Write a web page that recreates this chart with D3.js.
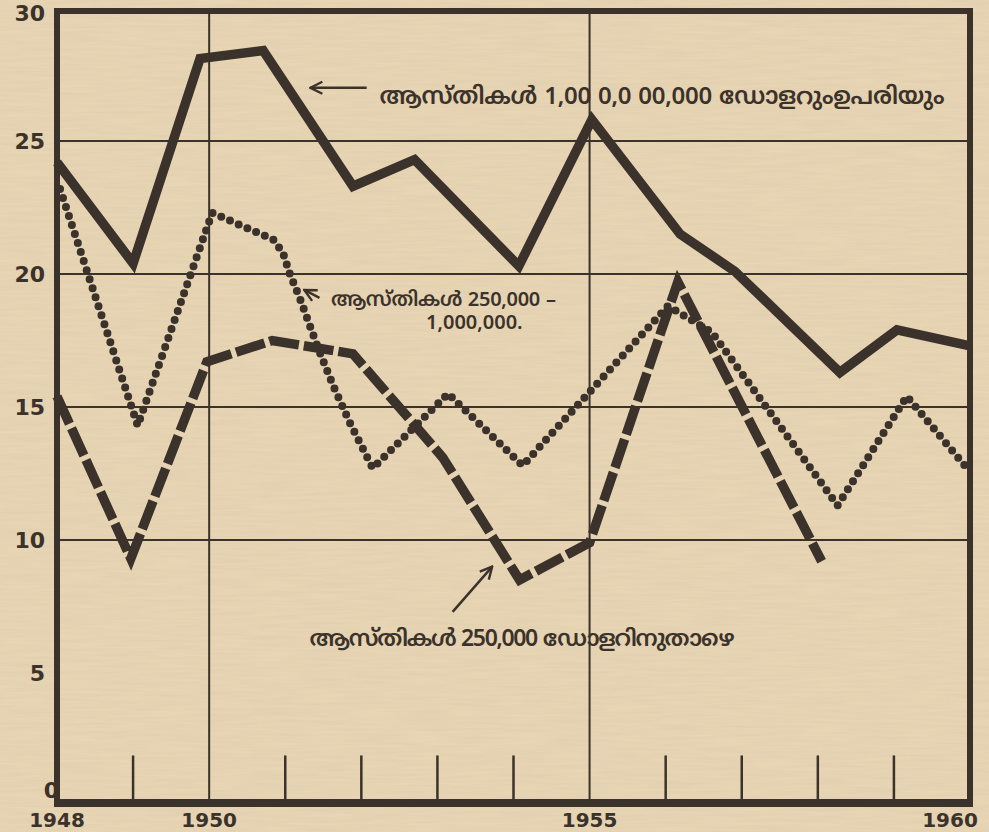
<!DOCTYPE html>
<meta charset="utf-8">
<style>
body { margin: 0; background: #e8d6b5; }
svg { display: block; font-family: "DejaVu Sans", sans-serif; }
</style>
<body>
<script src="https://cdn.jsdelivr.net/npm/d3@7"></script>
<script>

// values; the original puts its points a little
// off the year ticks, so the years carry the decimals it was drawn with
var bigYears    = [1948, 1949, 1949.88, 1950.71, 1951.89, 1952.70, 1954.07, 1955.03, 1956.19, 1956.91, 1958.29, 1959.04, 1960];
var bigValues   = [24.2, 20.4, 28.1, 28.4, 23.3, 24.3, 20.3, 25.8, 21.5, 20.1, 16.3, 17.9, 17.3];

var midYears    = [1948.04, 1949.06, 1950.04, 1950.44, 1950.84, 1950.97, 1951.06, 1951.19, 1951.42, 1951.63, 1951.85, 1952.15, 1953.14, 1954.12, 1956.03, 1956.61, 1958.26, 1959.17, 1959.96];
var midValues   = [23.2, 14.3, 22.3, 21.8, 21.3, 20.8, 20.0, 19.1, 17.3, 15.8, 14.4, 12.7, 15.5, 12.8, 18.8, 17.8, 11.3, 15.4, 12.7];

var smallYears  = [1948, 1948.97, 1949.97, 1950.83, 1951.89, 1953.07, 1954.08, 1955.0, 1956.16, 1958.05];
var smallValues = [15.4, 9.3, 16.7, 17.5, 17.0, 13.1, 8.5, 9.9, 19.7, 9.2];

var yTicks     = [0, 5, 10, 15, 20, 25, 30];
var gridValues = [10, 15, 20, 25];
var gridYears  = [1950, 1955];
var minorYears = [1949, 1951, 1952, 1953, 1954, 1956, 1957, 1958, 1959];
var xLabels    = [1948, 1950, 1955, 1960];

var bigLabel   = "ആസ്തികൾ  1,00 0,0 00,000 ഡോളറുംഉപരിയും";
var midLabel   = ["ആസ്തികൾ 250,000 –", "1,000,000."];
var smallLabel = "ആസ്തികൾ 250,000 ഡോളറിനുതാഴെ";

var ink = "#3b322b";
var paper = "#e7d5b4";

var width = 989, height = 832;

var x = d3.scaleLinear().domain([1948, 1960]).range([57, 970]);
var y = d3.scaleLinear().domain([0, 30]).range([806, 8]);

var svg = d3.select("body").append("svg")
    .attr("width", width)
    .attr("height", height)
    .style("background", paper);

var defs = svg.append("defs");
defs.append("marker")
    .attr("id", "head")
    .attr("viewBox", "0 0 10 10")
    .attr("refX", 9).attr("refY", 5)
    .attr("markerWidth", 6).attr("markerHeight", 6)
    .attr("markerUnits", "strokeWidth")
    .attr("orient", "auto-start-reverse")
  .append("path")
    .attr("d", "M1,1 L9,5 L1,9")
    .attr("fill", "none")
    .attr("stroke", ink)
    .attr("stroke-width", 1.6);

// faint paper grain
var grain = defs.append("filter").attr("id", "grain")
    .attr("x", 0).attr("y", 0).attr("width", "100%").attr("height", "100%");
grain.append("feTurbulence")
    .attr("type", "fractalNoise")
    .attr("baseFrequency", "0.02 0.35")
    .attr("numOctaves", 3)
    .attr("seed", 4);
grain.append("feColorMatrix")
    .attr("type", "matrix")
    .attr("values", "0 0 0 0 0.45  0 0 0 0 0.36  0 0 0 0 0.25  0 0 0 0.35 -0.1");

svg.append("rect")
    .attr("width", width).attr("height", height)
    .attr("filter", "url(#grain)")
    .attr("opacity", 0.5);

// grid
svg.append("g").selectAll("line")
    .data(gridValues)
  .enter().append("line")
    .attr("x1", x(1948)).attr("x2", x(1960))
    .attr("y1", function(d) { return y(d); })
    .attr("y2", function(d) { return y(d); })
    .attr("stroke", ink).attr("stroke-width", 2);

svg.append("g").selectAll("line")
    .data(gridYears)
  .enter().append("line")
    .attr("x1", function(d) { return x(d); })
    .attr("x2", function(d) { return x(d); })
    .attr("y1", y(30)).attr("y2", y(0))
    .attr("stroke", ink).attr("stroke-width", 2);

// short year ticks along the bottom
svg.append("g").selectAll("line")
    .data(minorYears)
  .enter().append("line")
    .attr("x1", function(d) { return x(d); })
    .attr("x2", function(d) { return x(d); })
    .attr("y1", y(1.9)).attr("y2", y(0))
    .attr("stroke", ink).attr("stroke-width", 2.5);

// frame
svg.append("path")
    .attr("d", "M" + x(1948) + "," + y(0) + "V" + (y(30) + 3) + "H" + x(1960) + "V" + y(0))
    .attr("fill", "none").attr("stroke", ink).attr("stroke-width", 6);
svg.append("line")
    .attr("x1", x(1948) - 3).attr("x2", x(1960) + 3)
    .attr("y1", y(0) - 3).attr("y2", y(0) - 3)
    .attr("stroke", ink).attr("stroke-width", 8);

// series
var line = d3.line()
    .x(function(d) { return x(d[0]); })
    .y(function(d) { return y(d[1]); });

svg.append("path")
    .datum(d3.zip(bigYears, bigValues))
    .attr("d", line)
    .attr("fill", "none").attr("stroke", ink)
    .attr("stroke-width", 9.5).attr("stroke-linejoin", "miter");

svg.append("path")
    .datum(d3.zip(smallYears, smallValues))
    .attr("d", line)
    .attr("fill", "none").attr("stroke", ink)
    .attr("stroke-width", 9.5)
    .attr("stroke-dasharray", "30,5");

svg.append("path")
    .datum(d3.zip(midYears, midValues))
    .attr("d", line)
    .attr("fill", "none").attr("stroke", ink)
    .attr("stroke-width", 8)
    .attr("stroke-linecap", "round")
    .attr("stroke-dasharray", "0,9.5");

// axis labels
svg.append("g").selectAll("text")
    .data(yTicks)
  .enter().append("text")
    .attr("x", function(d) { return d === 0 ? 59 : 45; })
    .attr("y", function(d) { return d === 0 ? y(d) - 16 : d === 30 ? y(d) + 5 : y(d); })
    .attr("dy", ".36em")
    .attr("text-anchor", "end")
    .attr("fill", ink)
    .style("font-size", "22px")
    .style("font-weight", "bold")
    .text(function(d) { return d; });

svg.append("g").selectAll("text")
    .data(xLabels)
  .enter().append("text")
    .attr("x", function(d) { return d === 1960 ? x(d) - 20 : x(d); })
    .attr("y", 827)
    .attr("text-anchor", "middle")
    .attr("fill", ink)
    .style("font-size", "20px")
    .style("font-weight", "bold")
    .text(function(d) { return d; });

// annotations
var note = svg.append("g")
    .attr("fill", ink)
    .style("font-family", "'Noto Sans Malayalam', 'Noto Sans', sans-serif")
    .style("font-weight", "600");

svg.append("line")
    .attr("x1", x(1952.07)).attr("y1", y(27.0))
    .attr("x2", x(1951.33)).attr("y2", y(27.0))
    .attr("stroke", ink).attr("stroke-width", 2.5)
    .attr("marker-end", "url(#head)");
note.append("text")
    .attr("x", x(1952.24)).attr("y", y(26.4))
    .attr("textLength", 565)
    .style("font-size", "24px")
    .text(bigLabel);

svg.append("line")
    .attr("x1", x(1951.45)).attr("y1", y(19.1))
    .attr("x2", x(1951.25)).attr("y2", y(19.4))
    .attr("stroke", ink).attr("stroke-width", 2.5)
    .attr("marker-end", "url(#head)");
note.append("text")
    .attr("x", x(1951.6)).attr("y", y(18.8))
    .attr("textLength", 225)
    .style("font-size", "20px")
    .text(midLabel[0]);
note.append("text")
    .attr("x", x(1952.85)).attr("y", y(17.95))
    .style("font-size", "20px")
    .text(midLabel[1]);

svg.append("line")
    .attr("x1", x(1953.2)).attr("y1", y(7.3))
    .attr("x2", x(1953.72)).attr("y2", y(9.0))
    .attr("stroke", ink).attr("stroke-width", 2.5)
    .attr("marker-end", "url(#head)");
note.append("text")
    .attr("x", x(1951.32)).attr("y", y(6.0))
    .attr("textLength", 425)
    .style("font-size", "23px")
    .text(smallLabel);

</script>
